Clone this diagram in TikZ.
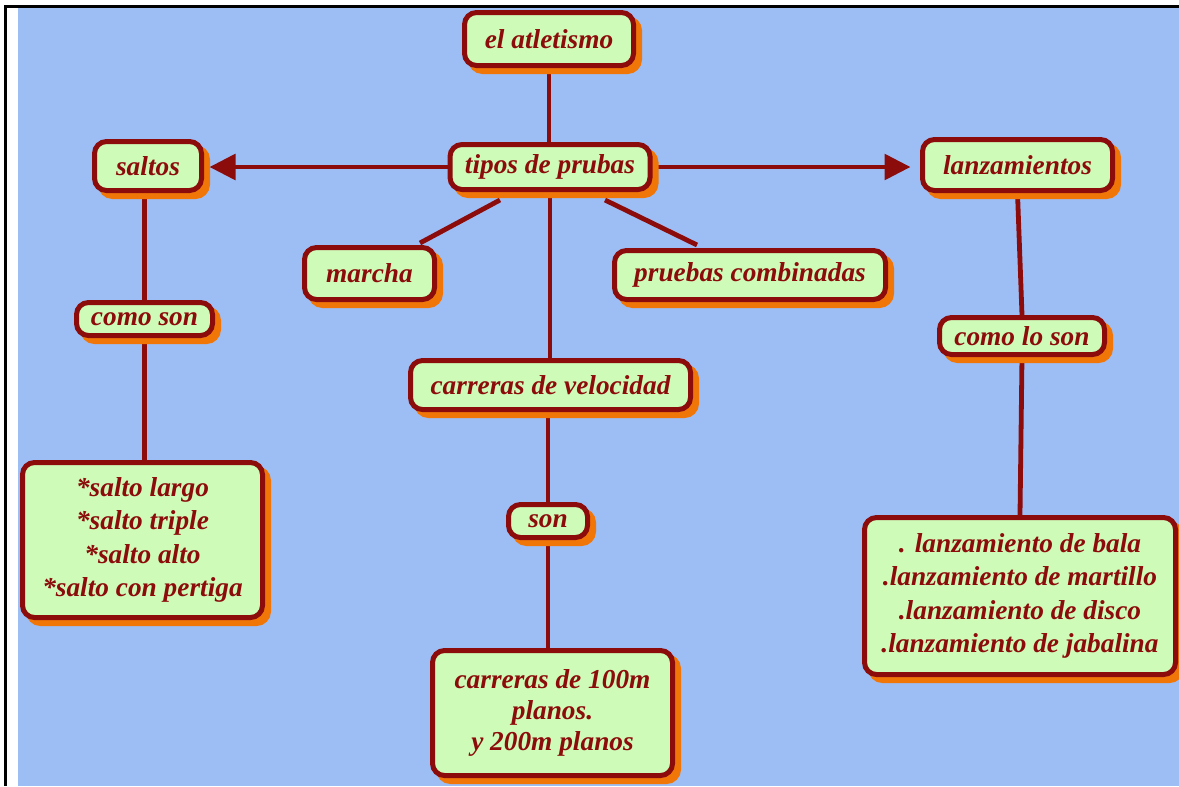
\documentclass[tikz,border=0pt]{standalone}
\usepackage{fontspec}
\setmainfont{Liberation Serif}
\usetikzlibrary{arrows.meta,shadows,calc}
\definecolor{bgblue}{RGB}{157,190,245}
\definecolor{boxgreen}{RGB}{206,252,184}
\definecolor{darkred}{RGB}{140,12,12}
\definecolor{shorange}{RGB}{240,118,8}
\pgfdeclarelayer{back}
\pgfdeclarelayer{conn}
\pgfsetlayers{back,conn,main}
\tikzset{
  box/.style={draw=darkred, fill=boxgreen, line width=3.75pt, rounded corners=9pt,
    inner sep=0pt, align=center, text=darkred,
    font=\fontsize{20.5}{25}\selectfont\bfseries\itshape,
    general shadow={fill=shorange, draw=shorange, line width=3.75pt, shadow xshift=4.5pt, shadow yshift=-4.5pt}},
  conn/.style={draw=darkred, line width=3.6pt},
  tipa/.style={-{Triangle[length=19.5pt,width=19pt]}}
}
\begin{document}
\begin{tikzpicture}[x=0.75pt,y=-0.75pt]
\useasboundingbox (0,0) rectangle (1179,786);
\begin{pgfonlayer}{back}
\fill[white] (0,0) rectangle (1179,786);
\fill[bgblue] (18,7) rectangle (1179,786);
\fill[black] (4,5) rectangle (1179,7.5);
\fill[black] (4,5) rectangle (6.5,786);
\end{pgfonlayer}

\node[box, minimum width=126.75pt, minimum height=39.75pt] (atl) at (549,39) {el atletismo};
\node[box, minimum width=150pt, minimum height=33.75pt] (tipos) at (550,167) {tipos de prubas};
\node[box, minimum width=80.25pt, minimum height=36.75pt] (saltos) at (148,166) {saltos};
\node[box, minimum width=102pt, minimum height=24.75pt] (comoson) at (144.5,319) {como son};
\node[box, minimum width=180pt, minimum height=116.25pt] (saltobox) at (142.5,540)
  {*salto largo\\ *salto triple\\ *salto alto\\ *salto con pertiga};
\node[box, minimum width=142.5pt, minimum height=38.25pt] (lanz) at (1017.5,165) {lanzamientos};
\node[box, minimum width=123.75pt, minimum height=27.75pt] (comolo) at (1022,336) {como lo son};
\node[box, minimum width=233.25pt, minimum height=117.75pt] (lanzbox) at (1020,596)
  {. lanzamiento de bala\\ .lanzamiento de martillo\\ .lanzamiento de disco\\ .lanzamiento de jabalina};
\node[box, minimum width=97.5pt, minimum height=39pt] (marcha) at (369.5,273.5) {marcha};
\node[box, minimum width=203.25pt, minimum height=36.75pt] (pruebas) at (750,275) {pruebas combinadas};
\node[box, minimum width=210pt, minimum height=36.75pt] (carreras) at (550.5,385) {carreras de velocidad};
\node[box, minimum width=59.25pt, minimum height=24.75pt] (son) at (548,521) {son};
\node[box, minimum width=180pt, minimum height=93.75pt, font=\fontsize{20.5}{23}\selectfont\bfseries\itshape] (cien) at (552.5,713)
  {carreras de 100m\\ planos.\\ y 200m planos};

\begin{pgfonlayer}{conn}
\draw[conn] (atl.south) -- (atl.south |- tipos.north);
\draw[conn, tipa] (tipos.west) -- ($(tipos.west -| saltos.east)+(5.5,0)$);
\draw[conn, tipa] (tipos.east) -- ($(tipos.east -| lanz.west)+(-9.5,0)$);
\draw[conn] ($(tipos.south)+(-50,8)$) -- ($(marcha.north east)+(-17,-2)$);
\draw[conn] ($(tipos.south)+(55,8)$) -- ($(pruebas.north west)+(85,-3)$);
\draw[conn] (tipos.south) -- (tipos.south |- carreras.north);
\draw[conn] (comoson.north |- saltos.south) -- (comoson.north);
\draw[conn] (comoson.south) -- (comoson.south |- saltobox.north);
\draw[conn] (lanz.south) -- (comolo.north);
\draw[conn] (comolo.south) -- (lanzbox.north);
\draw[conn] (carreras.south -| son.north) -- (son.north);
\draw[conn] (son.south) -- (son.south |- cien.north);
\end{pgfonlayer}
\end{tikzpicture}
\end{document}
